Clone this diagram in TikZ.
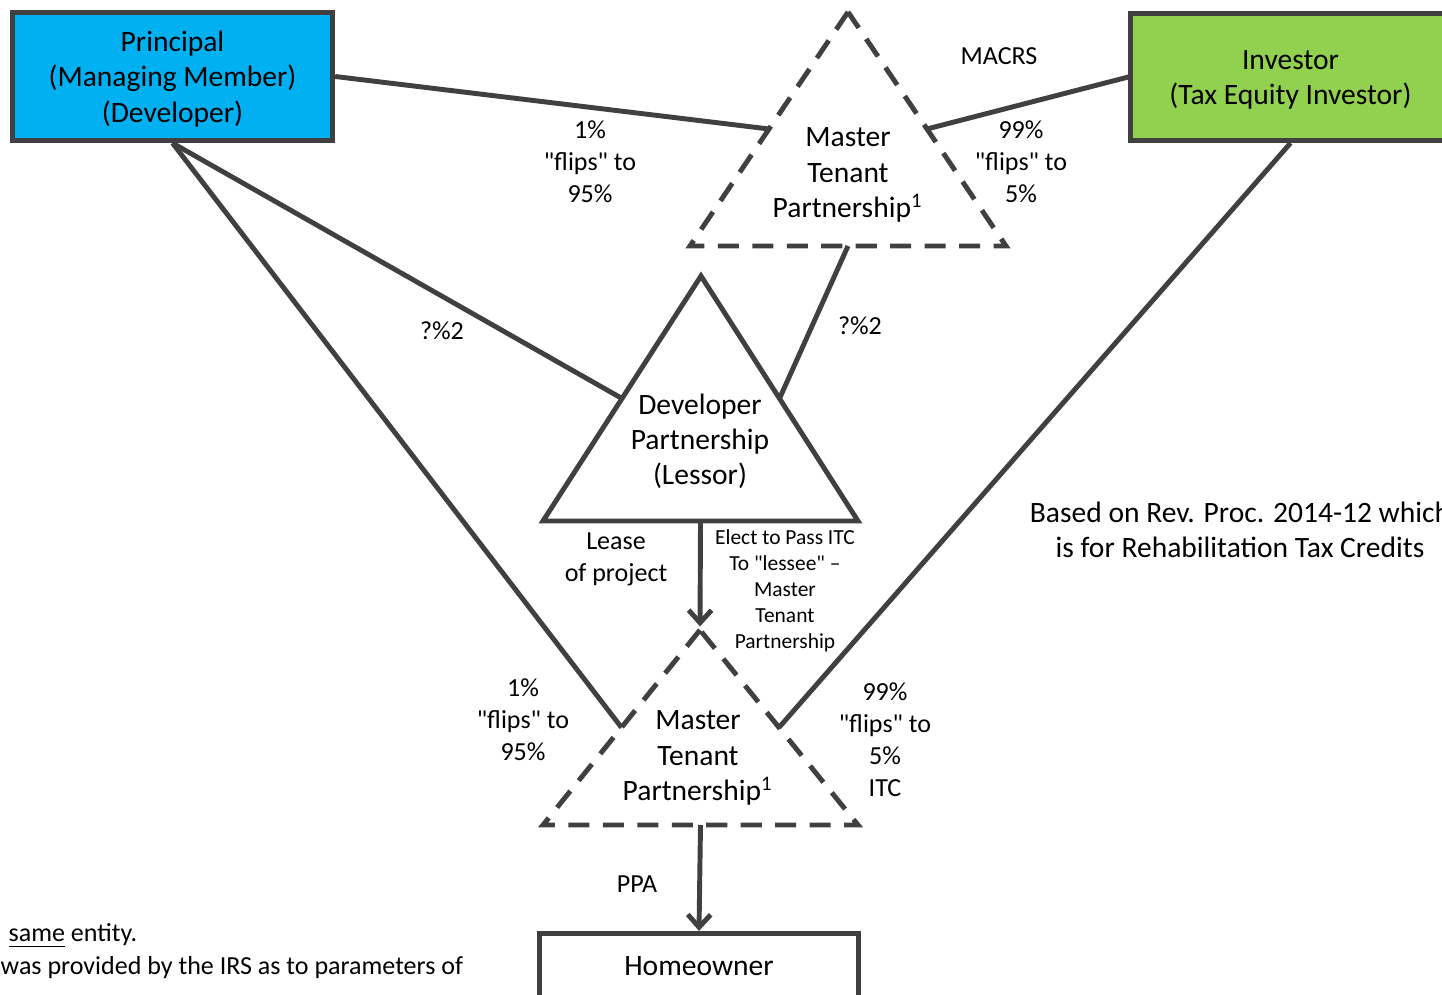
\documentclass[tikz,border=0pt]{standalone}
\usepackage{fontspec}
\setmainfont{Carlito}
\usetikzlibrary{arrows.meta, positioning, calc}
\definecolor{mline}{HTML}{404040}
\definecolor{mblue}{HTML}{00B0F0}
\definecolor{mgreen}{HTML}{92D050}
\newcommand{\qq}[1]{\textquotedbl#1\textquotedbl}
\tikzset{
  ent/.style={draw=mline, line width=1.45pt, inner sep=0pt, align=center,
              font=\fontsize{8.4}{10}\selectfont},
  link/.style={draw=mline, line width=1.4pt},
  arr/.style={link, -{Straight Barb[length=3.6pt, width=6.5pt]}},
  tri/.style={draw=mline, line width=1.4pt, line join=miter},
  dtri/.style={tri, dash pattern=on 6pt off 3.8pt},
  big/.style={font=\fontsize{8.4}{10}\selectfont, align=center, inner sep=0pt},
  lbl/.style={font=\fontsize{7.4}{9.1}\selectfont, align=center, inner sep=0pt},
  small/.style={font=\fontsize{6.1}{7.4}\selectfont, align=center, inner sep=0pt},
}

\begin{document}
\begin{tikzpicture}[x=0.01cm, y=-0.01cm]
  \useasboundingbox (0,0) rectangle (1442,995);

  % entity boxes
  \node[ent, fill=mblue, minimum width=3.2cm, minimum height=1.28cm]
    (principal) at (172.5,76.5) {};
  \node[big] (principalT) at (172.5,79) {Principal\\(Managing Member)\\(Developer)};
  \node[ent, fill=mgreen, minimum width=3.19cm, minimum height=1.27cm]
    (investor) at (1290.5,77) {};
  \node[big] (investorT) at (1290.5,80) {Investor\\(Tax Equity Investor)};
  \node[ent, minimum width=3.19cm, minimum height=0.65cm]
    (home) at (699,966) {Homeowner};

  % partnerships (triangles)
  \coordinate (mtA) at (848,12);
  \coordinate (mtL) at (690,246);
  \coordinate (mtR) at (1006,246);
  \draw[dtri] (mtA) -- (mtL) -- (mtR) -- cycle;
  \node[big] (mt) at (848,175) {Master\\Tenant\\Partnership\textsuperscript{1}};

  \coordinate (devA) at (701,276);
  \coordinate (devL) at (543,521);
  \coordinate (devR) at (858,521);
  \draw[tri] (devA) -- (devL) -- (devR) -- cycle;
  \node[big] (dev) at (700,441) {Developer\\Partnership\\(Lessor)};

  \coordinate (mbA) at (700,630);
  \coordinate (mbL) at (543,825);
  \coordinate (mbR) at (858,825);
  \draw[dtri] (mbA) -- (mbL) -- (mbR) -- cycle;
  \node[big] (mb) at (698,758) {Master\\Tenant\\Partnership\textsuperscript{1}};

  % ownership links
  \draw[link] (principal.east) -- ($(mtA)!0.5!(mtL)$);
  \draw[link] (investor.west) -- ($(mtA)!0.5!(mtR)$);
  \draw[link] (principal.south) -- ($(devA)!0.5!(devL)$);
  \draw[link] (principal.south) -- ($(mbA)!0.5!(mbL)$);
  \draw[link] ($(mtL)!0.5!(mtR)$) -- ($(devA)!0.5!(devR)$);
  \draw[link] (investor.south) -- ($(mbA)!0.5!(mbR)$);
  \draw[arr, shorten >=1pt] ($(devL)!0.5!(devR)$) -- (mbA);
  \draw[arr] ($(mbL)!0.5!(mbR)$) -- (home.north);

  % labels
  \node[lbl] (lp1) at (590,162) {1\%\\\qq{flips} to\\95\%};
  \node[lbl] (macrs) at (999,56) {MACRS};
  \node[lbl] (li1) at (1021,162) {99\%\\\qq{flips} to\\5\%};
  \node[lbl] (lq1) at (442,331) {?\%2};
  \node[lbl] (lq2) at (860,326) {?\%2};
  \node[lbl] (lease) at (616,559) {Lease\\of project};
  \node[small] (elect) at (785,591) {Elect to Pass ITC\\To \qq{lessee} --\\Master\\Tenant\\Partnership};
  \node[lbl] (lp2) at (523,720) {1\%\\\qq{flips} to\\95\%};
  \node[lbl] (li2) at (885,740) {99\%\\\qq{flips} to\\5\%\\ITC};
  \node[lbl] (ppa) at (637,884) {PPA};
  \node[big] (rev) at (1240,530) {Based on Rev. Proc. 2014-12 which\\is for Rehabilitation Tax Credits};

  % footnotes
  \node[lbl, anchor=west] (fn1) at (8,936) {\underline{same} entity.};
  \node[lbl, anchor=west] (fn2) at (0,968) {was provided by the IRS as to parameters of};
\end{tikzpicture}
\end{document}
